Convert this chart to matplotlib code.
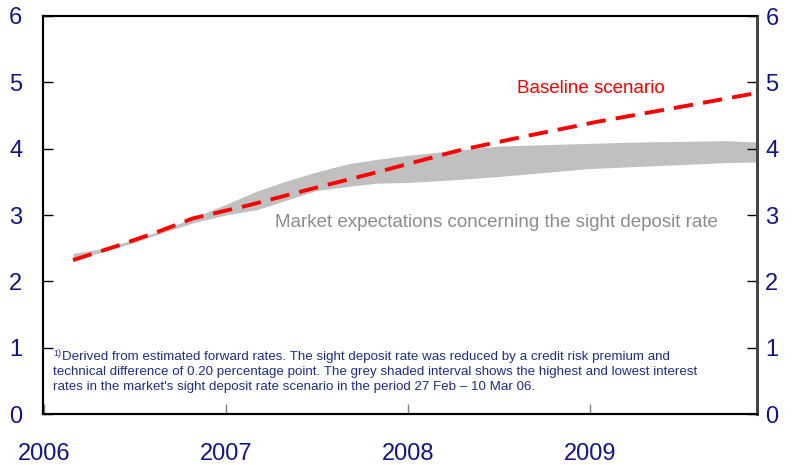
import matplotlib
matplotlib.use("Agg")
import matplotlib.pyplot as plt

plt.rcParams['font.family'] = ['Liberation Sans', 'DejaVu Sans']

# ---- data ----
band_x = [2006.16, 2006.33, 2006.5, 2006.67, 2006.83, 2007.0, 2007.17, 2007.33, 2007.5,
          2007.67, 2007.83, 2008.0, 2008.25, 2008.5, 2008.75, 2009.0, 2009.25, 2009.5,
          2009.75, 2009.92]
band_upper = [2.42, 2.50, 2.63, 2.79, 2.97, 3.16, 3.36, 3.51, 3.65, 3.77, 3.84, 3.90,
              3.97, 4.04, 4.06, 4.08, 4.10, 4.11, 4.12, 4.10]
band_lower = [2.32, 2.45, 2.59, 2.75, 2.89, 3.00, 3.08, 3.22, 3.37, 3.43, 3.48, 3.49,
              3.53, 3.58, 3.64, 3.70, 3.73, 3.76, 3.79, 3.80]

base_x = [2006.16, 2006.42, 2006.62, 2006.82, 2007.13, 2007.45, 2007.81, 2008.18,
          2008.29, 2008.67, 2009.05, 2009.5, 2009.92]
base_y = [2.32, 2.55, 2.74, 2.95, 3.15, 3.38, 3.63, 3.90, 3.98, 4.20, 4.41, 4.63, 4.84]

x_ticks = [2006, 2007, 2008, 2009]
y_ticks = [0, 1, 2, 3, 4, 5, 6]

navy = '#14148a'
fn_color = '#1f2f85'

W, H = 792, 465
fig = plt.figure(figsize=(W / 100, H / 100), dpi=100)
ax = fig.add_axes([43 / W, 1 - 414 / H, (757 - 43) / W, (414 - 16) / H])

ax.fill_between(band_x, band_lower, band_upper, color='#c0c0c0', linewidth=0, zorder=1)
ax.plot(base_x, base_y, color='#ff0000', lw=2.8, linestyle=(0, (5.0, 2.6)), zorder=3,
        dash_capstyle='butt')

ax.set_xlim(2005.995, 2009.92)
ax.set_ylim(0, 6)
ax.set_xticks(x_ticks)
ax.set_xticklabels([str(t) for t in x_ticks])
ax.set_yticks(y_ticks)

ax.tick_params(axis='x', direction='in', length=7, width=1, color='#808080',
               labelsize=17, labelcolor=navy, pad=21)
ax.tick_params(axis='y', direction='in', length=7, width=1, color='black',
               labelsize=17, labelcolor=navy, left=True, right=False,
               labelleft=True, labelright=False, pad=15)

ax2 = ax.twinx()
ax2.set_ylim(0, 6)
ax2.set_yticks(y_ticks)
ax2.tick_params(axis='y', direction='in', length=7, width=1, color='black',
                labelsize=17, labelcolor=navy, pad=6)

for a in (ax, ax2):
    for s in a.spines.values():
        s.set_linewidth(1.5)
        s.set_color('black')
    a.spines['right'].set_color('#444444')
    a.spines['right'].set_linewidth(2)

ax.text(2008.60, 4.91, 'Baseline scenario', color='#ff0000', fontsize=13.5,
        ha='left', va='center')
ax.text(2007.27, 2.88, 'Market expectations concerning the sight deposit rate',
        color='#8c8c8c', fontsize=13.5, ha='left', va='center')

def fx(px):
    return px / W

def fy(py):
    return 1 - py / H

fig.text(fx(53), fy(353), '1)', fontsize=6.5, color=fn_color, ha='left', va='center')
fig.text(fx(62), fy(357), 'Derived from estimated forward rates. The sight deposit rate was reduced by a credit risk premium and',
         fontsize=9.6, color=fn_color, ha='left', va='center')
fig.text(fx(53), fy(372), 'technical difference of 0.20 percentage point. The grey shaded interval shows the highest and lowest interest',
         fontsize=9.6, color=fn_color, ha='left', va='center')
fig.text(fx(53), fy(387), "rates in the market's sight deposit rate scenario in the period 27 Feb \u2013 10 Mar 06.",
         fontsize=9.6, color=fn_color, ha='left', va='center')

fig.savefig('out.png', dpi=100)
